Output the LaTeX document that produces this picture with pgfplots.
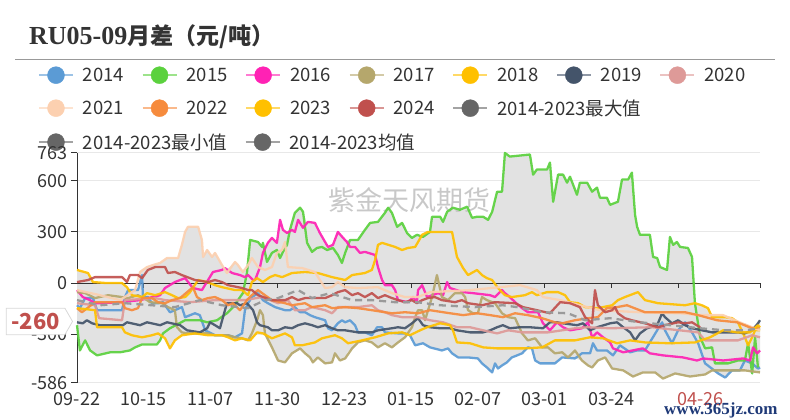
\documentclass[border=0pt]{standalone}
\usepackage{pgfplots}
\pgfplotsset{compat=1.18}
\usetikzlibrary{shapes.symbols}
\usepackage{fontspec}
\setmainfont{Noto Sans CJK SC}
\newfontfamily\titlelatin{Liberation Serif}
\newfontfamily\cjk{Noto Sans CJK SC}
\newfontfamily\webfont{Liberation Serif}
\definecolor{c2014}{HTML}{5B9BD5}
\definecolor{c2015}{HTML}{5BD13E}
\definecolor{c2016}{HTML}{FF22B4}
\definecolor{c2017}{HTML}{B5A76C}
\definecolor{c2018}{HTML}{FFC000}
\definecolor{c2019}{HTML}{44546A}
\definecolor{c2020}{HTML}{DE9A98}
\definecolor{c2021}{HTML}{FCD0B0}
\definecolor{c2022}{HTML}{F68B3D}
\definecolor{c2023}{HTML}{FFC000}
\definecolor{c2024}{HTML}{C0504D}
\definecolor{cstat}{HTML}{666666}
\definecolor{cmean}{HTML}{9A9A9A}
\definecolor{cband}{HTML}{E2E2E2}
\definecolor{ctext}{HTML}{333333}
\definecolor{cgrid}{HTML}{E8E8E8}
\definecolor{cborder}{HTML}{D8D8D8}
\definecolor{cweb}{HTML}{1F3A78}
\definecolor{cwm}{HTML}{C8C8C8}
\pgfplotsset{
  legrow/.style={hide axis, scale only axis, width=1pt, height=1pt,
    xmin=0, xmax=1, ymin=0, ymax=1, at={(0pt,0pt)}, anchor=south west,
    legend columns=-1,
    legend image code/.code={\draw[##1, line width=2pt, opacity=0.6] (0pt,0pt) -- (34pt,0pt); \fill[##1] (17pt,0pt) circle (8.5pt);},
    legend style={draw=none, fill=none, inner sep=0pt, outer sep=0pt, anchor=west,
      font=\fontsize{18.5}{20}\selectfont, text=ctext,
      nodes={inner sep=0pt},
      /tikz/every odd column/.append style={column sep=9pt},
      /tikz/every even column/.append style={column sep=17.5pt}},
    legend cell align=left},
  ser/.style={line width=2.3pt, line join=round, opacity=0.92}
}
\begin{document}
\begin{tikzpicture}[x=1pt,y=1pt]
\path[use as bounding box] (0,0) rectangle (790,420);
\node[anchor=base west, inner sep=0pt, text=ctext] at (29,375) {{\titlelatin\fontsize{26}{26}\selectfont\bfseries RU05-09}{\cjk\fontsize{23}{23}\selectfont\bfseries 月差（元/吨）}};
\draw[color=black!40, line width=1pt] (15,360) -- (775,360);

\begin{axis}[legrow, legend style={at={(axis description cs:38,345)}}]
\addlegendimage{color=c2014}\addlegendentry{2014}
\addlegendimage{color=c2015}\addlegendentry{2015}
\addlegendimage{color=c2016}\addlegendentry{2016}
\addlegendimage{color=c2017}\addlegendentry{2017}
\addlegendimage{color=c2018}\addlegendentry{2018}
\addlegendimage{color=c2019}\addlegendentry{2019}
\addlegendimage{color=c2020}\addlegendentry{2020}
\end{axis}
\begin{axis}[legrow, legend style={at={(axis description cs:38,312)}}]
\addlegendimage{color=c2021}\addlegendentry{2021}
\addlegendimage{color=c2022}\addlegendentry{2022}
\addlegendimage{color=c2023}\addlegendentry{2023}
\addlegendimage{color=c2024}\addlegendentry{2024}
\addlegendimage{color=cstat}\addlegendentry{2014-2023最大值}
\end{axis}
\begin{axis}[legrow, legend style={at={(axis description cs:38,278)}}]
\addlegendimage{color=cstat}\addlegendentry{2014-2023最小值}
\addlegendimage{color=cstat}\addlegendentry{2014-2023均值}
\end{axis}

\begin{axis}[
  at={(77pt,37pt)}, anchor=south west, scale only axis, width=683pt, height=230pt,
  xmin=0, xmax=235.1, ymin=-586, ymax=763,
  axis x line*=bottom, axis y line*=left,
  x axis line style={draw=none},
  y axis line style={draw=ctext, line width=1pt},
  xtick={0,23,46,69,92,115,138,161,184},
  xticklabels={09-22,10-15,11-07,11-30,12-23,01-15,02-07,03-01,03-24},
  ytick={-586,-300,0,300,600,763},
  yticklabels={-586,-300,0,300,600,763},
  ymajorgrids, grid style={draw=cgrid, line width=1pt},
  x tick style={draw=none},
  y tick style={draw=ctext, line width=1pt},
  tick align=outside, major tick length=6pt,
  tick label style={font=\fontsize{18}{18}\selectfont, text=ctext},
  /pgf/number format/assume math mode=true,
  clip=false
]
% band: 2014-2023 max (left to right) then min (right to left)
\addplot[fill=cband, draw=none] coordinates {(0,77)(3.8,59)(5.5,6)(15.5,0)(17.2,-24)(18.2,-41)(21,-41)(21.7,65)(22.4,80)(24.1,94)(26.2,106)(28.6,118)(31,147)(34.8,147)(36.1,224)(37.2,300)(38.2,330)(41.7,330)(43,253)(43.4,153)(44.8,194)(46.5,153)(47.5,177)(49.9,106)(51.6,80)(54.4,124)(55.4,106)(57.1,65)(58.5,100)(59.6,253)(62.3,241)(63.7,212)(65.4,220)(65.7,236)(67.1,265)(68.8,236)(69.9,371)(70.9,312)(72.3,294)(73.3,312)(75,412)(76.8,442)(77.8,418)(79.2,350)(79.5,359)(81.9,353)(83.6,294)(85.4,241)(86.4,212)(88.1,224)(89.8,300)(91.6,265)(92.3,250)(94,253)(96.7,253)(99.1,312)(100.9,353)(103.6,359)(106,412)(107.1,442)(108.4,412)(110.2,330)(111.9,353)(113.6,294)(115.3,265)(117,283)(119.1,271)(120.8,300)(121.5,300)(122.2,389)(125,389)(126,359)(127.4,418)(129.4,442)(131.8,430)(134.3,448)(136,383)(137.7,389)(139.8,389)(141.5,371)(142.9,418)(144.6,536)(146.3,536)(147.3,763)(149,742)(155.9,754)(157,636)(158.3,666)(161.8,666)(162.8,707)(163.9,477)(165.6,636)(167.3,636)(168.7,589)(169.7,624)(172.1,518)(173.1,589)(175.6,589)(177.3,536)(179,560)(180,501)(182.4,501)(183.5,459)(186.2,477)(187.6,607)(189.7,607)(191,648)(192.1,400)(192.8,330)(193.8,283)(197.2,283)(198.3,153)(199.7,147)(200.7,94)(203.1,77)(204.1,271)(205.2,224)(206.5,241)(207.6,212)(210.3,206)(211.7,153)(212.7,-118)(215.1,-130)(217.2,-147)(218.6,-185)(222.4,-188)(225.5,-206)(227.5,-230)(229.9,-235)(232.4,-259)(234.4,-236)(235.1,-218)
(235.1,-524)(234.4,-520)(233.4,-515)(232.4,-530)(229.9,-512)(225.5,-512)(223.1,-554)(220.7,-530)(218.6,-512)(216.2,-536)(211,-548)(205.9,-530)(201.7,-560)(199,-524)(194.8,-524)(191.4,-548)(188,-512)(184.2,-501)(181.8,-436)(179.3,-454)(177.3,-495)(175.9,-483)(173.8,-454)(171.4,-442)(169,-436)(167,-436)(164.5,-471)(159.4,-471)(157.7,-454)(156.6,-383)(155.2,-383)(153.2,-412)(151.5,-424)(149.7,-436)(148,-465)(146.3,-483)(144.9,-501)(143.9,-471)(142.9,-524)(141.1,-495)(139.4,-471)(138,-442)(134.6,-436)(131.2,-436)(129.1,-412)(127.7,-383)(125.6,-395)(121.5,-377)(119.1,-353)(116.4,-365)(115.3,-330)(114.6,-306)(112.9,-318)(111.9,-330)(110.5,-348)(108.4,-377)(106,-353)(103.6,-377)(101.5,-348)(99.1,-336)(96.7,-348)(94.7,-383)(93.3,-400)(92.3,-442)(90.5,-454)(88.8,-412)(87.8,-465)(85.4,-471)(82.9,-436)(81.2,-465)(80.2,-436)(78.5,-412)(76.8,-383)(74,-412)(71.6,-465)(69.2,-454)(67.1,-377)(65.7,-340)(64.7,-295)(64,-295)(62,-289)(60.2,-330)(59.6,-336)(58.9,-336)(56.8,-324)(54.4,-336)(52,-318)(47.5,-306)(44.1,-306)(40.6,-295)(37.9,-300)(36.1,-306)(34.4,-330)(33.7,-336)(32,-383)(30.3,-324)(29.6,-310)(28.6,-336)(27.5,-360)(22.4,-360)(20,-377)(18.2,-395)(14.8,-406)(11.4,-406)(6.9,-424)(4.5,-395)(2.8,-336)(1,-395)(0,-247)};
\node[text=cwm, font=\fontsize{27}{27}\selectfont] at (axis cs:114.6,489) {紫金天风期货};
\draw[color=ctext, line width=1pt] (axis cs:0,0) -- (axis cs:235.1,0);
\pgfplotsinvokeforeach{23,46,69,92,115,138,161,184,207,235.1}{\draw[color=ctext, line width=1pt] (axis cs:#1,0) -- ++(0pt,-5pt);}
% 2014
\addplot[ser, c2014] coordinates {(0,-130)(1,-147)(2.8,-88)(5.5,-88)(6.9,-159)(15.5,-159)(16.5,-82)(17.6,-41)(21,-41)(22.4,47)(22.7,-82)(24.4,-82)(25.8,-118)(27.9,-118)(29.6,-112)(32,-171)(33.7,-159)(36.1,-141)(37.2,-200)(40.6,-177)(42.3,-188)(44.1,-277)(47.5,-306)(52,-306)(54.4,-318)(56.8,-295)(57.8,-159)(58.9,-118)(60.2,-82)(62.3,-59)(64,-100)(65.7,-118)(68.2,-141)(71.6,-159)(73.3,-159)(75,-141)(76.8,-171)(78.5,-171)(80.2,-188)(81.9,-200)(85.4,-218)(86.4,-265)(87.8,-277)(89.8,-236)(91.2,-218)(92.3,-230)(94,-218)(95.7,-247)(96.7,-289)(99.1,-289)(101.5,-306)(103.3,-259)(105,-259)(106,-289)(110.5,-295)(112.9,-295)(114.6,-306)(116.4,-365)(119.1,-353)(121.5,-377)(125.6,-395)(127.7,-383)(129.1,-412)(131.2,-436)(134.6,-436)(138,-442)(139.4,-471)(141.1,-495)(142.9,-524)(143.9,-471)(144.9,-501)(146.3,-483)(148,-465)(149.7,-436)(151.5,-424)(153.2,-412)(155.2,-377)(156.6,-383)(157.7,-454)(159.4,-471)(164.5,-471)(167,-436)(171.4,-442)(173.8,-412)(176.6,-412)(177.6,-353)(179,-395)(182.4,-395)(184.5,-424)(186.9,-365)(190.4,-406)(192.8,-395)(195.5,-395)(199.7,-277)(201.4,-230)(202.4,-277)(204.8,-353)(206.9,-277)(209.3,-230)(211.7,-289)(213.8,-353)(216.2,-471)(220.7,-530)(223.1,-554)(225.5,-512)(228.2,-512)(229.9,-454)(232.4,-471)(234.4,-501)(235.1,-495)};
% 2015
\addplot[ser, c2015] coordinates {(0,-247)(1,-395)(2.8,-336)(4.5,-395)(6.9,-424)(11.4,-406)(14.8,-406)(18.2,-395)(20,-377)(22.4,-360)(27.5,-360)(28.6,-336)(29.6,-295)(32,-265)(37.2,-218)(42.3,-218)(44.8,-230)(48.2,-218)(51.6,-177)(53.7,-141)(57.1,-59)(58.5,59)(59.6,253)(62.3,241)(63.7,212)(64,236)(65.4,124)(67.1,177)(68.8,194)(69.9,147)(70.9,183)(72.3,224)(73.3,312)(75,412)(76.8,442)(77.8,418)(79.2,236)(80.9,183)(82.6,206)(84.3,212)(86.1,194)(88.1,206)(89.8,165)(91.2,118)(92.3,177)(94,253)(96.7,253)(99.1,312)(100.9,353)(103.6,359)(106,412)(107.1,442)(108.4,412)(110.2,330)(111.9,353)(113.6,294)(115.3,265)(117,283)(119.1,271)(121.5,300)(122.2,389)(125,389)(126,359)(127.4,418)(129.4,442)(131.8,430)(134.3,448)(136,383)(137.7,389)(139.8,389)(141.5,371)(142.9,418)(144.6,536)(146.3,536)(147.3,763)(149,742)(155.9,754)(157,636)(158.3,666)(161.8,666)(162.8,707)(163.9,477)(165.6,636)(167.3,636)(168.7,589)(169.7,624)(172.1,518)(173.1,589)(175.6,589)(177.3,536)(179,560)(180,501)(182.4,501)(183.5,459)(186.2,477)(187.6,607)(189.7,607)(191,648)(192.1,400)(192.8,330)(193.8,283)(197.2,283)(198.3,153)(199.7,147)(200.7,94)(203.1,77)(204.1,271)(205.2,224)(206.5,241)(207.6,212)(210.3,206)(211.7,153)(212.7,-118)(214.5,-318)(216.2,-383)(218.6,-377)(219.6,-471)(224.1,-471)(227.5,-454)(229.9,-454)(231,-353)(232.4,-530)(233.4,-318)(234.4,-495)};
% 2016
\addplot[ser, c2016] coordinates {(0,-41)(2,-82)(4.5,-100)(6.2,-118)(7.9,-118)(14.8,-112)(21.7,-100)(28.6,-71)(30.3,-29)(33.7,6)(37.2,29)(39.9,-29)(43,-41)(46.8,65)(49.9,77)(50.9,88)(53.4,59)(56.1,47)(57.8,35)(58.9,47)(60.6,18)(61.3,18)(63,94)(64,177)(65.7,236)(67.1,265)(68.8,236)(69.9,371)(70.9,312)(72.3,294)(74,312)(75,300)(76.1,371)(77.8,324)(79.5,359)(81.9,353)(83.6,294)(85.4,241)(86.4,212)(88.1,224)(89.8,300)(91.6,265)(92.9,241)(94,212)(95.7,212)(97.4,177)(99.1,183)(102.6,165)(103.6,94)(105,18)(106,-12)(108.4,-12)(109.5,-41)(110.5,-100)(113.9,-112)(115.7,-82)(117,-112)(117.4,-41)(118.8,-12)(120.5,-82)(124.3,-59)(126,-71)(127.4,6)(128.4,-29)(132.9,-53)(136.3,-59)(142.2,-71)(143.9,-82)(146.3,-41)(147.3,-59)(149,-82)(150.8,-112)(153.2,-147)(155.2,-171)(158.7,-171)(160.4,-236)(162.8,-277)(165.2,-230)(167.3,-259)(169.7,-277)(173.8,-265)(175.9,-230)(177.3,-318)(179,-289)(181.1,-318)(183.5,-348)(184.5,-383)(188,-406)(194.8,-383)(197.2,-412)(201.7,-424)(208.6,-436)(213.4,-454)(215.5,-442)(222.4,-454)(229.3,-442)(231.7,-454)(232.7,-377)(234.1,-412)(235.1,-395)};
% 2017
\addplot[ser, c2017] coordinates {(0,-53)(2.8,-59)(6.2,-88)(10.7,-71)(15.5,-82)(17.6,-88)(21,-71)(24.1,-100)(25.1,-112)(29.3,-118)(31.3,-141)(33.7,-159)(34.4,-259)(36.1,-289)(37.9,-295)(41.7,-295)(45.1,-295)(47.5,-306)(52,-306)(54.4,-318)(56.8,-324)(58.9,-336)(60.2,-295)(62,-218)(63,-159)(64,-188)(64.7,-295)(67.1,-377)(69.2,-454)(71.6,-465)(74,-412)(76.8,-383)(78.5,-412)(80.2,-436)(81.2,-465)(82.9,-436)(85.4,-471)(87.8,-465)(88.8,-412)(90.5,-454)(92.3,-442)(94.7,-383)(96.7,-348)(99.1,-336)(101.5,-348)(103.6,-377)(106,-353)(108.4,-377)(110.5,-348)(112.9,-318)(115.3,-259)(116.4,-200)(117.4,-159)(118.8,-159)(119.8,-218)(122.2,-82)(123.9,47)(125.6,-82)(127.7,-100)(130.1,-59)(132.5,-59)(133.6,-82)(134.6,-159)(136.3,-177)(138,-177)(139.4,-82)(141.1,-100)(143.9,-118)(146.3,-177)(148.4,-200)(150.8,-206)(153.2,-295)(155.2,-336)(157.7,-324)(160.1,-377)(162.1,-377)(164.5,-412)(167,-406)(169,-436)(171.4,-395)(173.8,-454)(175.9,-483)(177.3,-495)(179.3,-454)(181.8,-436)(184.2,-501)(188,-512)(191.4,-548)(194.8,-524)(199,-524)(201.7,-560)(205.9,-530)(211,-548)(216.2,-536)(218.6,-512)(229.9,-512)(235.1,-524)};
% 2018
\addplot[ser, c2018] coordinates {(0,77)(3.8,59)(5.5,6)(10.3,0)(15.5,0)(17.2,-24)(18.9,-71)(22.4,-82)(24.1,-59)(26.9,-71)(30.3,-53)(32.7,-71)(34.8,-88)(37.2,-82)(38.9,-53)(41.7,18)(44.8,6)(47.5,-12)(49.9,-24)(54.4,-41)(56.8,-41)(58.9,-71)(60.2,6)(62,29)(64,6)(66.4,35)(68.2,47)(70.6,35)(74,59)(78.5,65)(82.9,59)(87.8,35)(92.3,18)(94.7,47)(99.1,59)(101.5,77)(102.6,135)(103.6,224)(105,236)(109.5,212)(111.9,194)(113.9,206)(116.4,212)(117.4,241)(118.8,283)(120.8,300)(129.1,300)(130.8,153)(132.9,88)(134.6,47)(137.7,77)(139.4,47)(141.1,29)(142.9,18)(144.9,-29)(147.3,-71)(149.7,-82)(154.2,-71)(156.6,-53)(158.3,-71)(161.8,-53)(165.6,-53)(168,-71)(169.7,-112)(172.5,-118)(174.9,-141)(179.3,-147)(184.2,-130)(186.2,-100)(188.6,-82)(193.1,-53)(195.5,-100)(200,-118)(209.3,-130)(212.7,-118)(215.1,-130)(217.2,-147)(218.6,-200)(223.1,-200)(225.5,-206)(227.5,-230)(229.9,-318)(231,-365)(232.4,-318)(233.4,-277)(235.1,-277)};
% 2019
\addplot[ser, c2019] coordinates {(0,-230)(2,-236)(3.4,-218)(5.2,-236)(7.9,-247)(15.8,-247)(17.2,-230)(21.7,-247)(24.1,-230)(28.6,-247)(31,-230)(35.5,-247)(37.9,-277)(42.3,-289)(44.8,-265)(45.8,-230)(47.5,-247)(49.2,-265)(51.6,-118)(55.1,-118)(56.1,-130)(58.5,-118)(60.6,-159)(62,-230)(63,-247)(65.7,-259)(67.1,-277)(69.2,-277)(71.6,-259)(74,-265)(76.1,-247)(78.5,-236)(80.9,-247)(82.9,-259)(85.4,-247)(87.8,-265)(89.8,-277)(92.3,-277)(96.7,-289)(101.5,-289)(103.6,-277)(108.4,-265)(110.5,-259)(112.9,-265)(115.3,-236)(117.4,-206)(119.1,-247)(121.5,-259)(125,-265)(128.4,-265)(130.8,-277)(135.3,-289)(139.8,-289)(142.2,-277)(144.6,-259)(146.6,-247)(149,-265)(152.5,-259)(155.9,-259)(160.4,-265)(162.8,-230)(165.2,-230)(167.3,-236)(172.1,-247)(174.2,-236)(176.6,-277)(179,-259)(183.5,-236)(185.9,-230)(188,-259)(190.4,-289)(192.1,-336)(193.8,-295)(196.2,-265)(199.7,-247)(201.4,-177)(202.4,-200)(204.8,-236)(206.9,-218)(209.3,-247)(211.7,-265)(218.6,-289)(227.5,-289)(229.9,-295)(232.4,-277)(234.4,-236)(235.1,-218)};
% 2020
\addplot[ser, c2020] coordinates {(0,-118)(6.2,-130)(7.6,-206)(15.5,-218)(16.5,-100)(26.9,-88)(30.3,-100)(38.9,-112)(47.5,-100)(57.8,-100)(63.7,-82)(69.2,-118)(72.6,-100)(75,-159)(78.5,-159)(80.9,-141)(85.4,-159)(87.8,-177)(89.8,-141)(96.7,-141)(101.5,-130)(103.6,-159)(106,-171)(108.4,-188)(111.9,-200)(117.4,-200)(121.5,-218)(126,-230)(130.8,-259)(135.3,-259)(139.8,-277)(144.6,-295)(148.4,-277)(153.2,-289)(162.1,-289)(167,-277)(171.4,-265)(175.9,-259)(183.5,-265)(197.9,-259)(213.8,-289)(216.2,-336)(227.5,-336)(232.4,-306)(235.1,-318)};
% 2021
\addplot[ser, c2021] coordinates {(0,-41)(7.9,-71)(14.8,-100)(20,-41)(21.7,65)(24.1,94)(26.2,106)(28.6,118)(31,147)(34.8,147)(36.1,224)(37.2,300)(38.2,330)(41.7,330)(43,253)(43.4,153)(44.8,194)(46.5,153)(47.5,177)(49.9,106)(51.6,59)(54.4,124)(55.4,106)(57.1,65)(58.9,106)(60.2,147)(62.3,94)(64.7,77)(67.1,94)(68.8,177)(70.6,194)(71.6,241)(72.6,94)(77.5,88)(81.9,65)(83.6,18)(85.4,-29)(87.8,-24)(89.8,6)(92.3,-24)(96.7,-29)(103.6,-24)(108.4,-59)(112.9,-82)(117.4,-82)(121.5,-53)(135.3,-41)(145.6,-24)(152.5,-12)(158.3,-41)(160.4,-82)(166.3,-100)(173.1,-130)(180,-159)(193.8,-171)(207.6,-177)(214.5,-188)(222.4,-188)(228.9,-236)(232.4,-259)(235.1,-277)};
% 2022
\addplot[ser, c2022] coordinates {(0,-147)(1.7,-171)(6.2,-112)(15.5,-112)(16.5,-147)(18.9,-159)(21,-147)(22.4,-88)(25.8,-88)(27.9,-112)(30.3,-118)(32.7,-100)(35.5,-88)(37.9,-53)(39.9,-24)(41.3,-82)(43,-100)(45.1,-88)(47.5,-82)(49.9,-100)(52,-130)(53.7,-118)(56.1,-159)(58.5,-100)(60.2,-71)(62.3,-41)(64.7,-71)(67.1,-100)(71.6,-118)(74,-130)(78.5,-118)(80.9,-141)(85.4,-130)(87.8,-147)(92.3,-141)(96.7,-147)(101.5,-159)(106,-171)(108.4,-177)(112.9,-171)(117.4,-177)(121.5,-159)(128.4,-177)(132.9,-188)(137.7,-177)(142.2,-188)(146.6,-200)(150.8,-177)(155.2,-188)(160.1,-206)(164.5,-230)(167,-236)(171.4,-218)(175.9,-206)(179.3,-200)(182.4,-147)(185.9,-141)(189.3,-130)(195.5,-171)(202.4,-171)(209.3,-171)(213.8,-188)(220.3,-218)(227.2,-230)(232.4,-265)(235.1,-259)};
% 2023
\addplot[ser, c2023] coordinates {(0,-147)(6.2,-159)(6.9,-259)(15.5,-259)(16.5,-289)(18.9,-306)(22.4,-318)(25.8,-306)(27.9,-295)(30.3,-324)(32,-383)(33.7,-336)(36.1,-306)(40.6,-295)(45.1,-306)(49.9,-306)(52,-318)(54.4,-336)(56.8,-324)(59.6,-336)(62,-289)(64,-295)(67.1,-324)(71.6,-295)(74,-318)(75,-365)(77.5,-365)(81.9,-348)(84.3,-324)(88.8,-306)(91.2,-324)(93.3,-353)(98.1,-336)(102.6,-318)(107.1,-295)(111.9,-289)(114.6,-306)(118.1,-277)(120.5,-259)(125,-236)(128.4,-247)(129.4,-277)(130.8,-348)(135.3,-353)(139.8,-377)(144.6,-383)(151.5,-383)(154.2,-383)(160.1,-377)(164.5,-336)(171.4,-336)(176.6,-318)(181.1,-324)(185.9,-353)(190.4,-336)(195.5,-348)(204.1,-353)(212.7,-348)(217.9,-318)(222.4,-277)(227.2,-289)(231.7,-289)(234.4,-247)(235.1,-259)};
% 2024
\addplot[ser, c2024] coordinates {(0,6)(3.8,18)(6.2,35)(15.5,35)(17.2,6)(18.2,47)(21,47)(22.4,29)(24.4,77)(26.9,94)(30.3,94)(31.3,59)(33.7,65)(36.1,47)(40.6,18)(45.1,6)(47.5,18)(49.9,6)(52,-12)(56.8,-29)(58.9,-41)(60.2,-41)(62.3,-71)(67.1,-100)(71.6,-100)(74,-82)(76.1,-100)(78.5,-88)(82.9,-88)(85.4,-88)(87.8,-71)(89.8,-53)(92.3,-41)(94.7,-71)(96.7,-59)(99.1,-82)(101.5,-59)(103.6,-88)(106,-71)(108.4,-88)(110.5,-100)(112.9,-112)(115.3,-100)(117,-118)(118.8,-100)(120.8,-88)(123.2,-82)(125.6,-100)(130.1,-112)(132.5,-100)(134.6,-118)(139.4,-130)(143.9,-112)(150.8,-118)(153.5,-141)(158.3,-159)(162.8,-177)(166.3,-112)(169.7,-118)(173.1,-141)(174.9,-200)(177.3,-236)(178.3,-41)(179.3,-130)(181.8,-171)(184.2,-159)(185.2,-141)(186.2,-177)(188.6,-206)(191,-218)(195.5,-236)(200,-259)(202.4,-247)(206.9,-230)(209.3,-236)(211.7,-230)(214.5,-260)};
% mean
\addplot[line width=2.3pt, cmean, dash pattern=on 7pt off 5pt] coordinates {(0,-100)(7.9,-130)(16.5,-118)(25.8,-130)(33.7,-141)(42.3,-100)(49.9,-130)(58.9,-147)(64.7,-100)(69.2,-88)(76.1,-41)(80.9,-88)(87.1,-59)(94.7,-100)(101.5,-100)(109.5,-112)(117,-112)(125,-130)(137,-141)(146.6,-130)(151.5,-141)(160.4,-171)(169,-177)(174.9,-218)(183.5,-206)(193.8,-230)(204.1,-247)(214.5,-265)(223.1,-277)(229.9,-277)(235.1,-265)};
\node[signal, signal to=east, signal pointer angle=120, fill=white, draw=cborder, line width=0.8pt, text=c2024, font=\fontsize{22}{22}\selectfont\bfseries, inner xsep=5pt, inner ysep=5pt, anchor=east] at ([xshift=-4pt]axis cs:0,-225) {-260};
\node[fill=white, text=c2024, font=\fontsize{18}{18}\selectfont, inner sep=2pt, anchor=north] at ([yshift=-7pt]axis cs:214.5,-586) {04-26};
\end{axis}
\node[anchor=west, inner sep=0pt, text=cweb, font=\webfont\fontsize{17}{17}\selectfont\bfseries] at (664,10) {www.365jz.com};
\end{tikzpicture}
\end{document}
